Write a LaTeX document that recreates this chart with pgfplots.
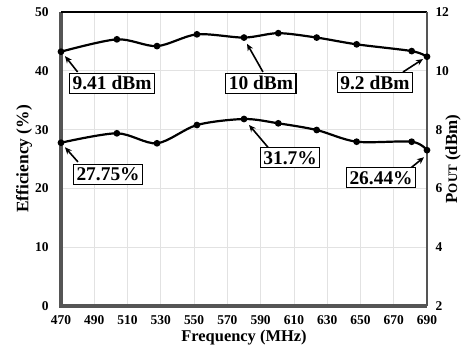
\documentclass[border=0pt]{standalone}
\usepackage{fontspec}
\setmainfont{Liberation Serif}
\usepackage{pgfplots}
\pgfplotsset{compat=1.18}
\usetikzlibrary{arrows.meta}
\definecolor{framegray}{HTML}{555555}
\definecolor{gridgray}{HTML}{E2E2E2}
\begin{document}
\begin{tikzpicture}[x=1bp,y=1bp]
\pgfplotsset{
  common/.style={
    scale only axis, width=366bp, height=294bp,
    xmin=470, xmax=690, xtick={470,490,...,690},
    major tick length=0pt,
    axis line style={draw=none},
    clip=false,
    tick label style={font=\fontsize{13.5}{13.5}\selectfont\bfseries},
    /pgf/number format/assume math mode=true,
  }
}
\begin{axis}[common, at={(0,0)}, anchor=south west,
  ymin=0, ymax=50, ytick={0,10,...,50},
  grid=major, grid style={gridgray, line width=0.8bp},
  xlabel={Frequency (MHz)}, ylabel={Efficiency (\%)},
  xlabel style={at={(axis description cs:0.5,-0.109)}, anchor=center, font=\fontsize{16.5}{16.5}\selectfont\bfseries},
  ylabel style={at={(axis description cs:-0.101,0.5)}, rotate=0, anchor=center, font=\fontsize{17.5}{17.5}\selectfont\bfseries},
  yticklabel style={xshift=-9bp},
  xticklabel style={yshift=-6bp},
]
\addplot[black, line width=2.2bp, smooth, tension=0.5, mark=*, mark size=2.2bp] coordinates {
(470,27.77) (503.6,29.37) (527.7,27.67) (551.7,30.78) (580,31.8) (600.6,31.07) (623.7,29.93) (647.7,27.94) (680.8,27.94) (690,26.5)};
\draw[framegray, line width=3bp] (rel axis cs:0,1) -- (rel axis cs:0,0) -- (rel axis cs:1,0);
\draw[black, line width=1.6bp] (rel axis cs:0,1) -- (rel axis cs:1,1);
\draw[framegray, line width=2bp] (rel axis cs:1,1) -- (rel axis cs:1,0);
\tikzset{ann/.style={draw=black, fill=white, line width=1.2bp, inner xsep=3bp, inner ysep=3bp, text height=13.5bp, text depth=0.5bp, font=\fontsize{19.5}{19.5}\selectfont\bfseries},
  arr/.style={-{Stealth[length=7bp,width=6bp]}, line width=1.6bp}}
\draw[arr] (axis cs:480,39.8) -- (axis cs:472.4,42.5);
\draw[arr] (axis cs:591.4,39.8) -- (axis cs:581.8,44.6);
\draw[arr] (axis cs:675.6,39.8) -- (axis cs:687.6,42.0);
\draw[arr] (axis cs:480.2,24.5) -- (axis cs:472.4,27.0);
\draw[arr] (axis cs:594.4,27.0) -- (axis cs:583,30.8);
\draw[arr] (axis cs:678.6,23.1) -- (axis cs:688.2,25.3);
\node[ann] at (axis cs:500.7,37.9) {9.41 dBm};
\node[ann] at (axis cs:590.2,37.9) {10 dBm};
\node[ann] at (axis cs:658.7,38.0) {9.2 dBm};
\node[ann] at (axis cs:498.3,22.4) {27.75\%};
\node[ann] at (axis cs:607.7,25.2) {31.7\%};
\node[ann] at (axis cs:662.4,21.8) {26.44\%};
\end{axis}
\begin{axis}[common, at={(0,0)}, anchor=south west,
  axis y line*=right, axis x line=none,
  ymin=2, ymax=12, ytick={2,4,...,12},
  ylabel={P{\fontsize{13}{13}\selectfont OUT} (dBm)},
  ylabel style={at={(axis description cs:1.071,0.5)}, anchor=center, font=\fontsize{17}{17}\selectfont\bfseries},
  yticklabel style={xshift=5bp},
]
\addplot[black, line width=2.2bp, smooth, tension=0.5, mark=*, mark size=2.2bp] coordinates {
(470,10.65) (503.6,11.07) (527.7,10.84) (551.7,11.24) (580,11.13) (600.6,11.28) (623.7,11.13) (647.7,10.90) (680.8,10.67) (690,10.48)};
\end{axis}
\pgfresetboundingbox
\path[use as bounding box] (-61bp,-43bp) rectangle (405bp,306bp);
\end{tikzpicture}
\end{document}
